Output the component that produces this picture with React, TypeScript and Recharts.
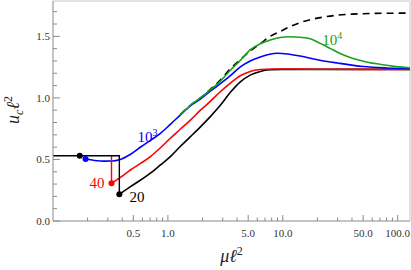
import { ComposedChart, Line, XAxis, YAxis, ReferenceDot, ReferenceLine, Label } from 'recharts';

// axis limits
const xMin = 0.1;
const xMax = 128;
const yMax = 1.787;

const xMajorTicks = [0.5, 1, 5, 10, 50, 100];
const xMinorTicks = [0.2, 0.3, 0.4, 0.6, 0.7, 0.8, 0.9, 2, 3, 4, 6, 7, 8, 9, 20, 30, 40, 60, 70, 80, 90];
const yMajorTicks = [0, 0.5, 1, 1.5];
const yMinorTicks = [0.1, 0.2, 0.3, 0.4, 0.6, 0.7, 0.8, 0.9, 1.1, 1.2, 1.3, 1.4, 1.6, 1.7];

// curve 10^3 (blue)
const muBlue = [0.192, 0.23, 0.28, 0.33, 0.378, 0.47, 0.583, 0.705, 0.861, 1.05, 1.28, 1.57, 1.92, 2.34, 2.86, 3.5, 4.27, 5.2, 6.37, 7.7, 8.9, 11, 14.2, 20, 30, 50, 80, 128];
const ucBlue = [0.503, 0.492, 0.486, 0.487, 0.497, 0.54, 0.603, 0.655, 0.712, 0.785, 0.86, 0.935, 0.99, 1.055, 1.115, 1.18, 1.252, 1.3, 1.333, 1.355, 1.362, 1.357, 1.34, 1.31, 1.283, 1.255, 1.243, 1.237];

// curve 40 (red)
const muRed = [0.323, 0.38, 0.472, 0.583, 0.705, 0.861, 1.05, 1.28, 1.57, 1.92, 2.34, 2.86, 3.5, 4.27, 5.2, 6.37, 8, 12, 20, 50, 128];
const ucRed = [0.306, 0.35, 0.414, 0.47, 0.523, 0.595, 0.672, 0.745, 0.82, 0.9, 0.972, 1.05, 1.12, 1.18, 1.215, 1.23, 1.235, 1.235, 1.233, 1.232, 1.232];

// curve 20 (black)
const muBlack = [0.378, 0.472, 0.583, 0.705, 0.861, 1.05, 1.28, 1.57, 1.92, 2.34, 2.86, 3.5, 4.27, 5.2, 6.37, 7.77, 10, 20, 50, 128];
const ucBlack = [0.217, 0.279, 0.335, 0.388, 0.455, 0.523, 0.605, 0.685, 0.765, 0.848, 0.94, 1.045, 1.13, 1.185, 1.215, 1.228, 1.232, 1.232, 1.232, 1.232];

// curve 10^4 (green)
const muGreen = [1.28, 1.57, 1.92, 2.34, 2.86, 3.5, 4.27, 5.2, 6.37, 7.77, 9.5, 11.6, 14.2, 17.3, 21.2, 26, 31.6, 38, 47.2, 56, 70.4, 90, 128];
const ucGreen = [0.862, 0.94, 1.0, 1.065, 1.135, 1.225, 1.305, 1.39, 1.44, 1.47, 1.49, 1.497, 1.492, 1.48, 1.443, 1.4, 1.36, 1.33, 1.305, 1.288, 1.273, 1.258, 1.244];

// limiting curve (dashed)
const muDash = [1.28, 1.57, 1.92, 2.34, 2.86, 3.5, 4.27, 5.2, 6.37, 7.77, 9.5, 11.6, 14.2, 17.3, 21.2, 30, 40, 60, 90, 128];
const ucDash = [0.862, 0.94, 1.0, 1.07, 1.145, 1.238, 1.31, 1.38, 1.44, 1.5, 1.54, 1.58, 1.612, 1.635, 1.652, 1.672, 1.68, 1.686, 1.688, 1.689];

// step at small mu
const muStep = [0.1, 0.378, 0.378];
const ucStep = [0.53, 0.53, 0.217];
const muRedDrop = [0.323, 0.323];
const ucRedDrop = [0.53, 0.306];

// endpoints
const dotMu = [0.171, 0.192, 0.323, 0.378];
const dotUc = [0.53, 0.503, 0.306, 0.217];
const dotColor = ['#000', '#0000ff', '#ff0000', '#000'];

const toData = (xs: number[], ys: number[]) => xs.map((x, i) => ({ x, y: ys[i] }));

const axisColor = '#8a8a8a';
const textColor = '#333';
const serif = { fontFamily: "'Liberation Serif', 'Times New Roman', serif" };

const XTick = ({ x, y, payload }: any) => {
  const v = payload.value;
  const major = xMajorTicks.includes(v);
  return (
    <g>
      <line x1={x} x2={x} y1={y} y2={y - (major ? 6 : 3.5)} stroke={axisColor} />
      {major && (
        <text x={x} y={y + 16} textAnchor="middle" fontSize={11} fill={textColor} style={serif}>
          {v.toFixed(1)}
        </text>
      )}
    </g>
  );
};

const YTick = ({ x, y, payload }: any) => {
  const v = payload.value;
  const major = yMajorTicks.includes(v);
  return (
    <g>
      <line x1={x} x2={x + (major ? 7 : 4)} y1={y} y2={y} stroke={axisColor} />
      {major && (
        <text x={x - 3} y={y + 4} textAnchor="end" fontSize={11} fill={textColor} style={serif}>
          {v.toFixed(1)}
        </text>
      )}
    </g>
  );
};

const curveLabel = (main: string, sup: string | null, color: string) => (p: any) => (
  <text x={p.cx} y={p.cy} fill={color} fontSize={15} style={serif}>
    {main}
    {sup && <tspan dy={-6} fontSize={10}>{sup}</tspan>}
  </text>
);

export default function App() {
  return (
    <div style={{ position: 'absolute', left: 0, top: 0, background: '#fff' }}>
      <ComposedChart width={411} height={270} margin={{ top: 1, right: 1, bottom: 0, left: 0 }} style={serif}>
        <XAxis
          dataKey="x"
          type="number"
          scale="log"
          domain={[xMin, xMax]}
          allowDataOverflow
          ticks={[...xMajorTicks, ...xMinorTicks].sort((a, b) => a - b)}
          interval={0}
          tick={<XTick />}
          tickLine={false}
          tickSize={0}
          tickMargin={0}
          height={49}
          axisLine={{ stroke: axisColor }}
        >
          <Label
            content={({ viewBox }: any) => (
              <text x={viewBox.x + viewBox.width / 2} y={viewBox.y + 41} textAnchor="middle" fontSize={18} style={serif} fill="#222">
                <tspan fontStyle="italic">μℓ</tspan>
                <tspan dy={-7} fontSize={12}>2</tspan>
              </text>
            )}
          />
        </XAxis>
        <YAxis
          dataKey="y"
          type="number"
          domain={[0, yMax]}
          allowDataOverflow
          ticks={[...yMajorTicks, ...yMinorTicks].sort((a, b) => a - b)}
          interval={0}
          tick={<YTick />}
          tickLine={false}
          tickSize={0}
          tickMargin={0}
          width={53}
          axisLine={{ stroke: axisColor }}
        >
          <Label
            content={() => (
              <text x={19} y={110} transform="rotate(-90 19 110)" textAnchor="middle" fontSize={18} style={serif} fill="#222">
                <tspan fontStyle="italic">u</tspan>
                <tspan dy={4} fontSize={12} fontStyle="italic">c</tspan>
                <tspan dy={-4} fontStyle="italic">ℓ</tspan>
                <tspan dy={-7} fontSize={12}>2</tspan>
              </text>
            )}
          />
        </YAxis>
        <ReferenceLine y={yMax} stroke="#c8c8c8" />
        <ReferenceLine x={xMax} stroke="#c8c8c8" />

        <Line data={toData(muDash, ucDash)} dataKey="y" type="monotone" stroke="#000" strokeWidth={1.6} strokeDasharray="7 5" dot={false} isAnimationActive={false} />
        <Line data={toData(muBlack, ucBlack)} dataKey="y" type="monotone" stroke="#000" strokeWidth={1.6} dot={false} isAnimationActive={false} />
        <Line data={toData(muRed, ucRed)} dataKey="y" type="monotone" stroke="#ff0000" strokeWidth={1.6} dot={false} isAnimationActive={false} />
        <Line data={toData(muBlue, ucBlue)} dataKey="y" type="monotone" stroke="#0000ff" strokeWidth={1.6} dot={false} isAnimationActive={false} />
        <Line data={toData(muGreen, ucGreen)} dataKey="y" type="monotone" stroke="#1aa01a" strokeWidth={1.6} dot={false} isAnimationActive={false} />
        <Line data={toData(muRedDrop, ucRedDrop)} dataKey="y" type="linear" stroke="#ff0000" strokeWidth={1.4} dot={false} isAnimationActive={false} />
        <Line data={toData(muStep, ucStep)} dataKey="y" type="linear" stroke="#000" strokeWidth={1.4} dot={false} isAnimationActive={false} />

        {dotMu.map((m, i) => (
          <ReferenceDot key={i} x={m} y={dotUc[i]} r={3} fill={dotColor[i]} stroke="none" />
        ))}

        <ReferenceDot x={0.543} y={0.642} r={0} shape={curveLabel('10', '3', '#0000ff')} />
        <ReferenceDot x={22} y={1.43} r={0} shape={curveLabel('10', '4', '#1aa01a')} />
        <ReferenceDot x={0.208} y={0.268} r={0} shape={curveLabel('40', null, '#ff0000')} />
        <ReferenceDot x={0.463} y={0.154} r={0} shape={curveLabel('20', null, '#000')} />
      </ComposedChart>
    </div>
  );
}
